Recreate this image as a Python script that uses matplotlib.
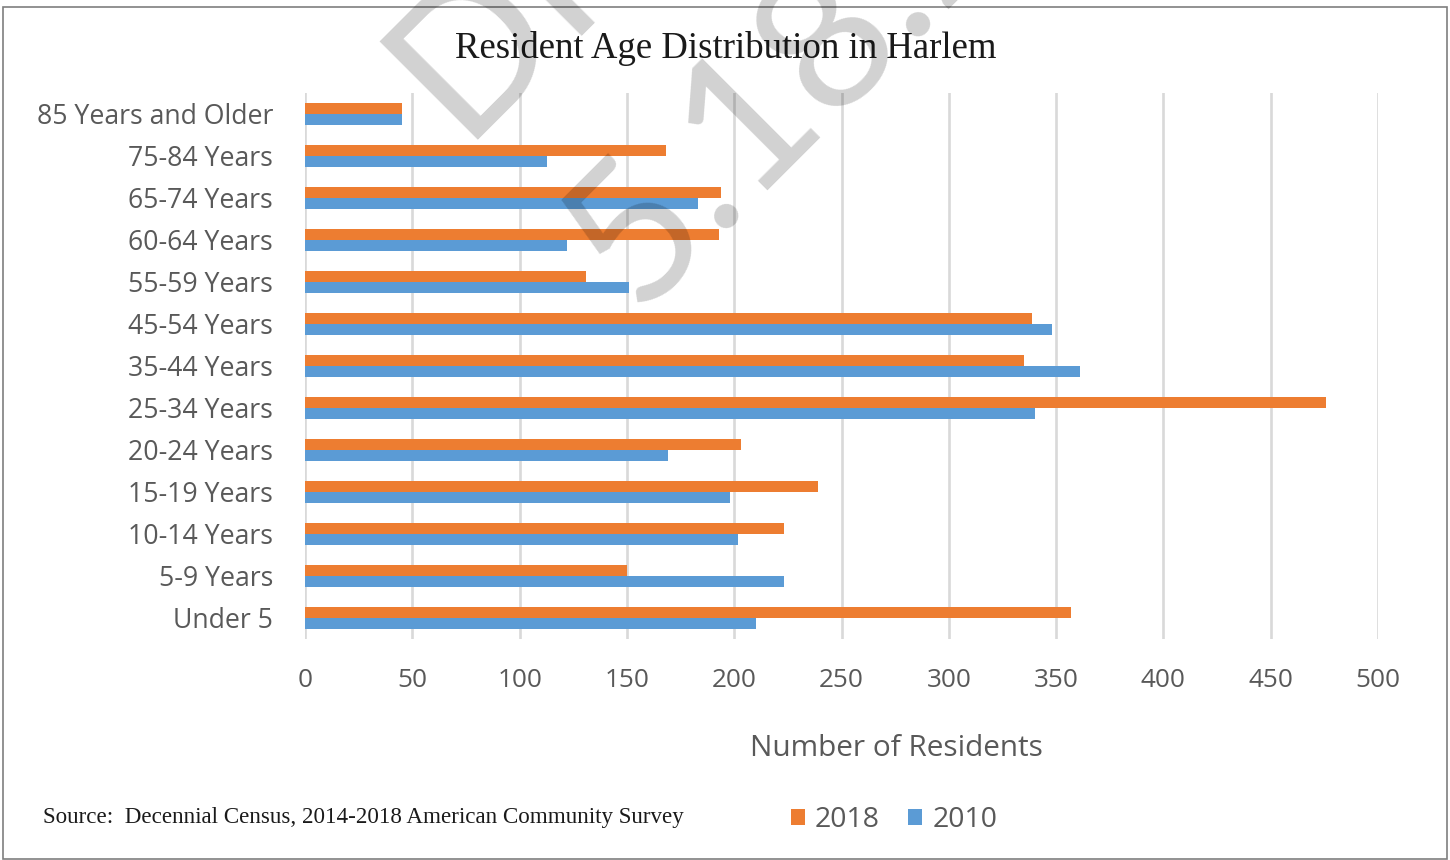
import matplotlib
matplotlib.use('Agg')
import matplotlib.pyplot as plt
import numpy as np
from matplotlib.patches import Rectangle, Patch

categories = ['Under 5', '5-9 Years', '10-14 Years', '15-19 Years', '20-24 Years',
              '25-34 Years', '35-44 Years', '45-54 Years', '55-59 Years',
              '60-64 Years', '65-74 Years', '75-84 Years', '85 Years and Older']
values_2018 = [357, 150, 223, 239, 203, 476, 335, 339, 131, 193, 194, 168, 45]
values_2010 = [210, 223, 202, 198, 169, 340, 361, 348, 151, 122, 183, 113, 45]
x_ticks = [0, 50, 100, 150, 200, 250, 300, 350, 400, 450, 500]
series_labels = ['2018', '2010']

ORANGE = '#ED7D31'
BLUE = '#5B9BD5'
GREY_TXT = '#595959'

W, H = 1450, 860
fig = plt.figure(figsize=(W / 100, H / 100), dpi=100)

def fx(px):
    return px / W

def fy(py):
    return 1 - py / H

ax = fig.add_axes([fx(305), fy(639), fx(1378) - fx(305), fy(93) - fy(639)])

y = np.arange(len(categories))
bh = 0.26
ax.barh(y + bh / 2, values_2018, height=bh, color=ORANGE, zorder=3, label='2018')
ax.barh(y - bh / 2, values_2010, height=bh, color=BLUE, zorder=3, label='2010')

ax.set_ylim(-0.5, len(categories) - 0.5)
ax.set_xlim(0, 500)
ax.set_xticks(x_ticks)
ax.set_xticklabels([str(t) for t in x_ticks])
ax.set_yticks(y)
ax.set_yticklabels(categories)
ax.grid(axis='x', color='#D9D9D9', linewidth=1.9, zorder=0)
ax.grid(axis='y', visible=False)
ax.set_axisbelow(True)
for s in ax.spines.values():
    s.set_visible(False)
ax.tick_params(axis='both', length=0, colors=GREY_TXT)
ax.tick_params(axis='y', pad=23)
ax.tick_params(axis='x', pad=21)
for lab in ax.get_yticklabels():
    lab.set_fontfamily('Open Sans')
    lab.set_fontsize(19.2)
    lab.set_color(GREY_TXT)
for lab in ax.get_xticklabels():
    lab.set_fontfamily('Open Sans')
    lab.set_fontsize(18.8)
    lab.set_color(GREY_TXT)

# Title
fig.text(fx(726), fy(49), 'Resident Age Distribution in Harlem', ha='center', va='center',
         fontfamily='Liberation Serif', fontsize=26.5, color='#1a1a1a')

# X axis title
fig.text(fx(896), fy(748), 'Number of Residents', ha='center', va='center',
         fontfamily='Open Sans', fontsize=21.4, color=GREY_TXT)

# Source
fig.text(fx(43), fy(817), 'Source:  Decennial Census, 2014-2018 American Community Survey',
         ha='left', va='center', fontfamily='Liberation Serif', fontsize=16.6, color='#1a1a1a')

# Legend
handles = [Patch(facecolor=ORANGE, edgecolor='none'), Patch(facecolor=BLUE, edgecolor='none')]
leg = fig.legend(handles, series_labels, loc='center', bbox_to_anchor=(fx(894), fy(820)),
                 ncol=2, frameon=False, handlelength=0.5, handleheight=0.5,
                 handletextpad=0.35, columnspacing=1.0,
                 prop={'family': 'Open Sans', 'size': 20.5})
for t in leg.get_texts():
    t.set_color(GREY_TXT)

# Outer frame
fig.patches.append(Rectangle((fx(3), fy(859)), fx(1447) - fx(3), fy(7) - fy(859),
                             transform=fig.transFigure, fill=False,
                             edgecolor='#7F7F7F', linewidth=1.2, zorder=1))

# Draft watermark
wm_kw = dict(rotation=45, rotation_mode='anchor', ha='left', va='baseline',
             fontfamily='Lato', fontsize=140, color='black', alpha=0.18, zorder=10)
fig.text(fx(460), fy(140), 'DRAFT', **wm_kw)
fig.text(fx(636), fy(312), '5.18.20', **wm_kw)

fig.savefig('out.png', dpi=100)
